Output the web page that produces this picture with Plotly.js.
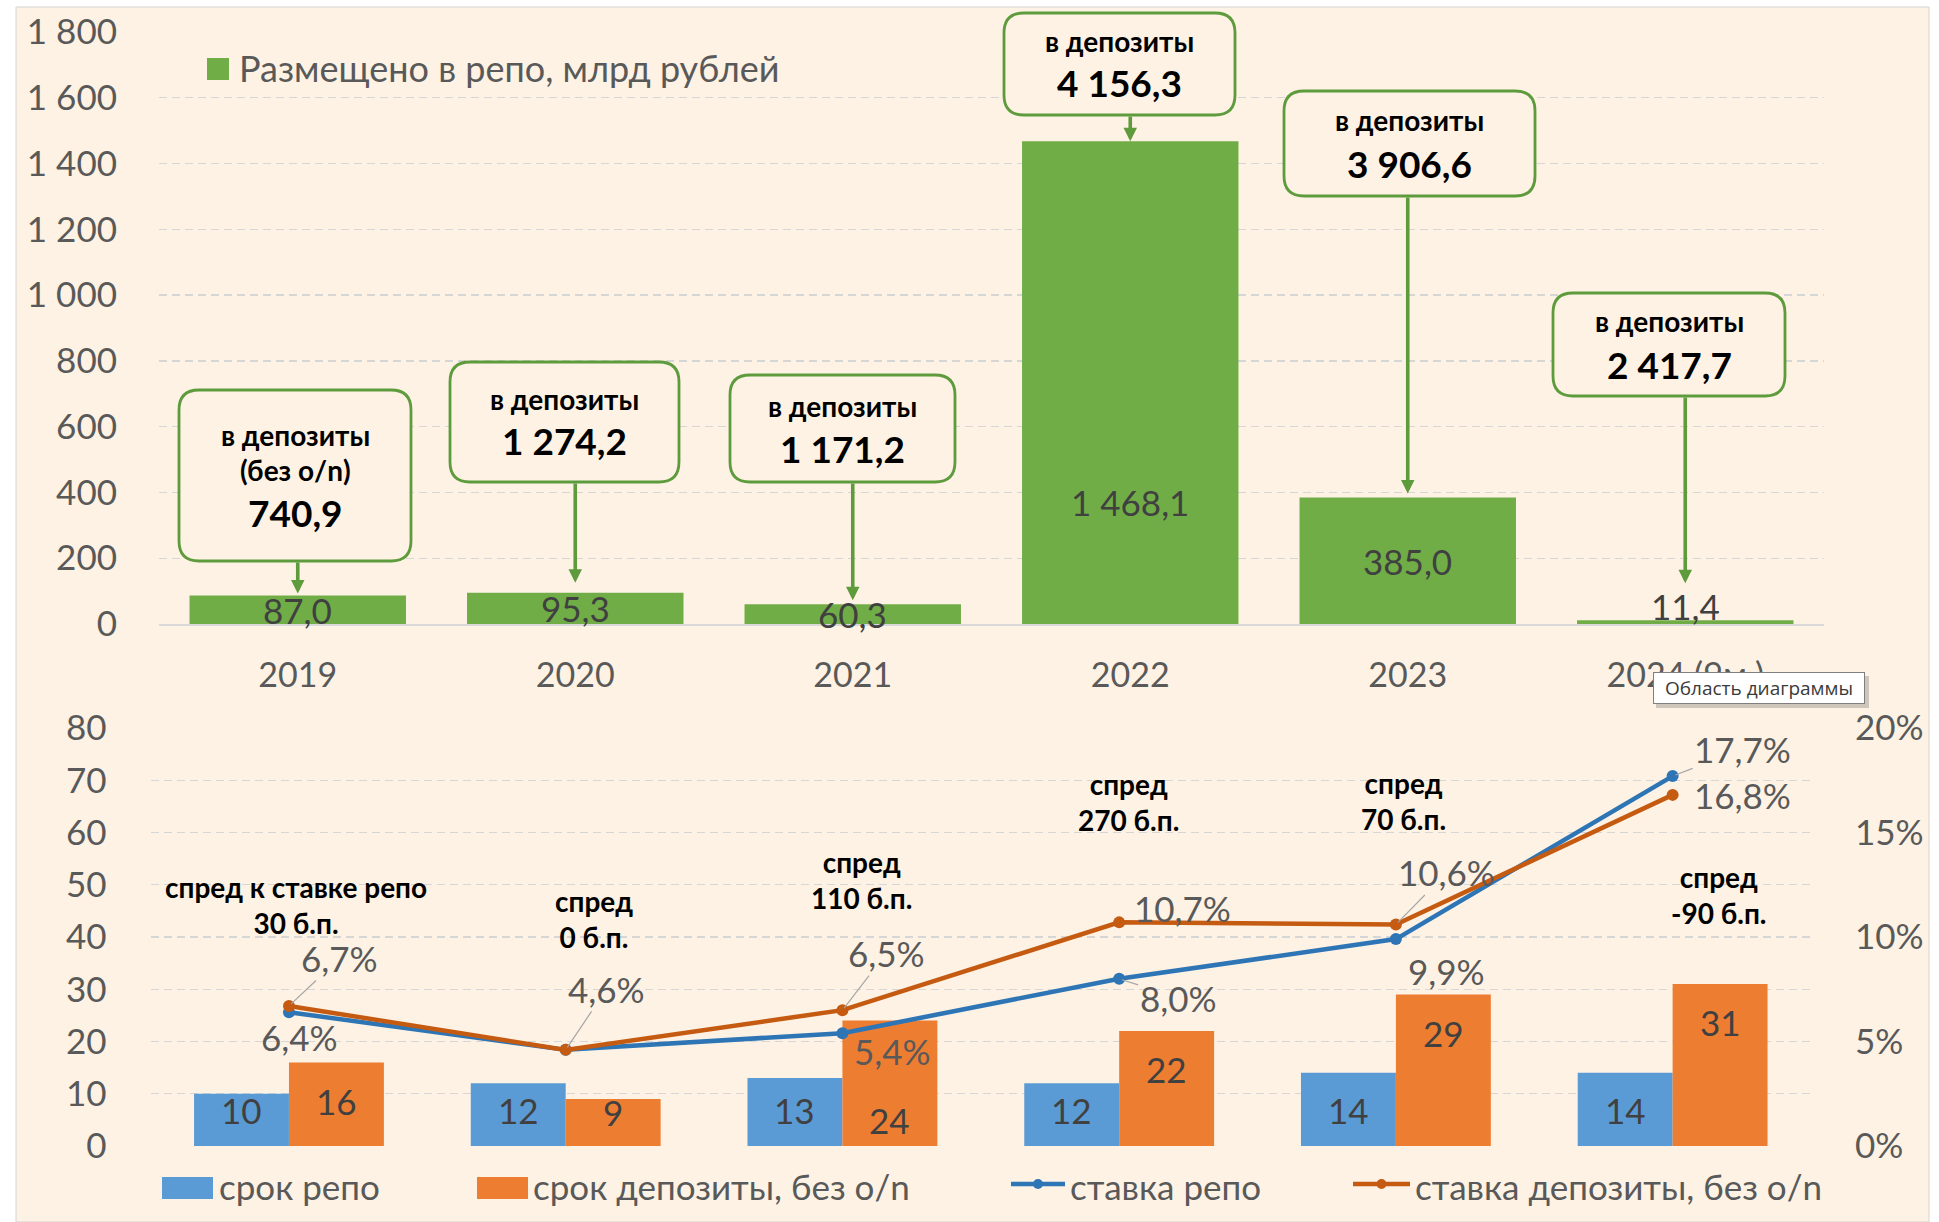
<!DOCTYPE html>
<html>
<head>
<meta charset="utf-8">
<script src="https://cdn.plot.ly/plotly-3.0.1.min.js"></script>
<style>
html,body{margin:0;padding:0;background:#ffffff;}
#chart{width:1939px;height:1222px;}
</style>
</head>
<body>
<div id="chart"></div>
<script>
// ---------------- DATA ----------------
const years = ['2019', '2020', '2021', '2022', '2023', '2024 (9м.)'];
const repoVolume = [87.0, 95.3, 60.3, 1468.1, 385.0, 11.4];          // Размещено в репо, млрд рублей
const depositVolume = [740.9, 1274.2, 1171.2, 4156.3, 3906.6, 2417.7]; // в депозиты
const depositCaption = ['в депозиты|(без о/n)', 'в депозиты', 'в депозиты', 'в депозиты', 'в депозиты', 'в депозиты'];
const repoTerm = [10, 12, 13, 12, 14, 14];       // срок репо
const depositTerm = [16, 9, 24, 22, 29, 31];     // срок депозиты, без о/n
const repoRate = [6.4, 4.6, 5.4, 8.0, 9.9, 17.7];      // ставка репо, %
const depositRate = [6.7, 4.6, 6.5, 10.7, 10.6, 16.8]; // ставка депозиты, без о/n, %
const seriesNames = ['Размещено в репо, млрд рублей', 'срок репо', 'срок депозиты, без о/n', 'ставка репо', 'ставка депозиты, без о/n'];

// ---------------- LAYOUT GEOMETRY (px) ----------------
const W = 1939, H = 1222;
const topArea = {l: 159, r: 1824, t: 32, b: 624};
const botArea = {l: 150.6, r: 1811, t: 728, b: 1146};
const TOPMAX = 1800;
const px = x => x / W;
const py = y => 1 - y / H;
const topVal = y => (topArea.b - y) / (topArea.b - topArea.t) * TOPMAX;

const FONT = 'Lato, "Open Sans", sans-serif';
const GREY = '#595959';
const DARK = '#404040';
const CREAM = '#FDF2E4';
const GREEN = '#70AD47';
const GREEN_LINE = '#5E9B3C';
const BLUE_BAR = '#5B9BD5';
const ORANGE_BAR = '#ED7D31';
const BLUE_LINE = '#2E75B6';
const ORANGE_LINE = '#C55A11';
const GRID = '#D6D6D6';

function fmt(v, d) {
  const s = Math.abs(v).toFixed(d).split('.');
  s[0] = s[0].replace(/\B(?=(\d{3})+(?!\d))/g, ' ');
  return (v < 0 ? '-' : '') + s.join(',');
}

const idx = years.map((_, i) => i);

// ---------------- TRACES ----------------
const traces = [
  {type: 'bar', x: idx, y: repoVolume, xaxis: 'x', yaxis: 'y', width: 0.78,
   marker: {color: GREEN}, name: seriesNames[0], hoverinfo: 'skip', showlegend: false},
  {type: 'bar', x: idx, y: repoTerm, xaxis: 'x2', yaxis: 'y2', width: 0.343, offset: -0.343,
   marker: {color: BLUE_BAR}, name: seriesNames[1], hoverinfo: 'skip', showlegend: false},
  {type: 'bar', x: idx, y: depositTerm, xaxis: 'x2', yaxis: 'y2', width: 0.343, offset: 0,
   marker: {color: ORANGE_BAR}, name: seriesNames[2], hoverinfo: 'skip', showlegend: false},
  {type: 'scatter', mode: 'lines+markers', x: idx, y: repoRate, xaxis: 'x2', yaxis: 'y3',
   line: {color: BLUE_LINE, width: 4.5}, marker: {color: BLUE_LINE, size: 12},
   name: seriesNames[3], hoverinfo: 'skip', showlegend: false},
  {type: 'scatter', mode: 'lines+markers', x: idx, y: depositRate, xaxis: 'x2', yaxis: 'y3',
   line: {color: ORANGE_LINE, width: 4.5}, marker: {color: ORANGE_LINE, size: 12},
   name: seriesNames[4], hoverinfo: 'skip', showlegend: false}
];

// ---------------- ANNOTATIONS & SHAPES ----------------
const annotations = [];
const shapes = [];

// cream chart area with thin border
shapes.push({type: 'rect', xref: 'paper', yref: 'paper', x0: px(16), x1: px(1929), y0: py(1222), y1: py(7),
  fillcolor: CREAM, line: {color: '#D4D4D4', width: 1}, layer: 'below'});

// top bar value labels
const topLabelOverride = {3: 371, 5: 55};
repoVolume.forEach((v, i) => {
  annotations.push({xref: 'x', yref: 'y', x: i, y: (i in topLabelOverride) ? topLabelOverride[i] : v / 2,
    text: fmt(v, 1), showarrow: false, font: {size: 35, color: DARK, family: FONT}});
});

// callout boxes (positions in px)
const calloutBoxes = [
  {x0: 179, x1: 411, y0: 390, y1: 561, lines: [435, 470, 512], gap: 2},
  {x0: 450, x1: 679, y0: 362, y1: 482, lines: [399, 441], gap: 10},
  {x0: 730, x1: 955, y0: 375, y1: 482, lines: [406, 448], gap: 4},
  {x0: 1004, x1: 1235, y0: 13, y1: 115, lines: [41, 83], gap: 0},
  {x0: 1284, x1: 1535, y0: 91, y1: 196, lines: [120, 163], gap: 4},
  {x0: 1553, x1: 1785, y0: 293, y1: 396, lines: [321, 364], gap: 37}
];
function roundRect(x0, y0, x1, y1, r) {
  const X = v => (v / W).toFixed(5), Y = v => (1 - v / H).toFixed(5);
  return `M${X(x0 + r)},${Y(y0)} L${X(x1 - r)},${Y(y0)} Q${X(x1)},${Y(y0)} ${X(x1)},${Y(y0 + r)} ` +
    `L${X(x1)},${Y(y1 - r)} Q${X(x1)},${Y(y1)} ${X(x1 - r)},${Y(y1)} L${X(x0 + r)},${Y(y1)} ` +
    `Q${X(x0)},${Y(y1)} ${X(x0)},${Y(y1 - r)} L${X(x0)},${Y(y0 + r)} Q${X(x0)},${Y(y0)} ${X(x0 + r)},${Y(y0)} Z`;
}
calloutBoxes.forEach((b, i) => {
  shapes.push({type: 'path', xref: 'paper', yref: 'paper', path: roundRect(b.x0, b.y0, b.x1, b.y1, 20),
    fillcolor: CREAM, line: {color: GREEN_LINE, width: 2.8}, layer: 'above'});
  const cx = (b.x0 + b.x1) / 2;
  const caps = depositCaption[i].split('|');
  caps.forEach((c, k) => {
    annotations.push({xref: 'paper', yref: 'paper', x: px(cx), y: py(b.lines[k]), xanchor: 'center', yanchor: 'middle',
      text: c, showarrow: false, font: {size: 28, color: '#000', family: FONT, weight: 700}});
  });
  annotations.push({xref: 'paper', yref: 'paper', x: px(cx), y: py(b.lines[caps.length]), xanchor: 'center', yanchor: 'middle',
    text: fmt(depositVolume[i], 1), showarrow: false, font: {size: 37, color: '#000', family: FONT, weight: 700}});
  // arrow from box to bar top
  annotations.push({xref: 'x', yref: 'y', x: i, y: repoVolume[i], axref: 'x', ayref: 'y', ax: i, ay: topVal(b.y1),
    text: '', showarrow: true, arrowhead: 2, arrowsize: 0.75, arrowwidth: 3.6, arrowcolor: GREEN_LINE, standoff: b.gap});
});

// top legend
shapes.push({type: 'rect', xref: 'paper', yref: 'paper', x0: px(207), x1: px(229), y0: py(80), y1: py(58),
  fillcolor: GREEN, line: {width: 0}, layer: 'above'});
annotations.push({xref: 'paper', yref: 'paper', x: px(237), y: py(68), xanchor: 'left', yanchor: 'middle',
  text: seriesNames[0], showarrow: false, font: {size: 36, color: GREY, family: FONT}});

// bottom bar labels
repoTerm.forEach((v, i) => {
  annotations.push({xref: 'x2', yref: 'y2', x: i - 0.1715, y: 6.8, text: String(v), showarrow: false,
    font: {size: 35, color: DARK, family: FONT}});
});
depositTerm.forEach((v, i) => {
  const yy = i === 2 ? 5.0 : Math.max(v - 7.3, 6.5);
  annotations.push({xref: 'x2', yref: 'y2', x: i + 0.1715, y: yy, text: String(v), showarrow: false,
    font: {size: 35, color: DARK, family: FONT}});
});

// rate labels: [dx, dy, leader] offsets in px (null = label hidden)
const repoRateLabelPos = [[11, 25, 0], null, [50, 18, 0], [59, 19, 1], [51, 32, 0], [70, -27, 1]];
const depRateLabelPos = [[51, -48, 1], [41, -61, 1], [44, -57, 1], [63, -14, 0], [51, -52, 1], [70, 0, 0]];
function rateLabels(vals, pos) {
  vals.forEach((v, i) => {
    const p = pos[i];
    if (!p) return;
    annotations.push({xref: 'x2', yref: 'y3', x: i, y: v, ax: p[0], ay: p[1], text: fmt(v, 1) + '%',
      showarrow: true, arrowhead: 0, arrowwidth: 1.2, arrowcolor: p[2] ? '#A6A6A6' : 'rgba(0,0,0,0)', standoff: 3,
      font: {size: 35, color: GREY, family: FONT}});
  });
}
rateLabels(repoRate, repoRateLabelPos);
rateLabels(depositRate, depRateLabelPos);

// spread labels (bp) computed from rates
const spreadPos = [[296, 905], [594, 919], [861, 880], [1128, 802], [1403, 801], [1719, 895]];
depositRate.forEach((d, i) => {
  const bp = Math.round((d - repoRate[i]) * 100);
  const head = i === 0 ? 'спред к ставке репо' : 'спред';
  annotations.push({xref: 'paper', yref: 'paper', x: px(spreadPos[i][0]), y: py(spreadPos[i][1]),
    xanchor: 'center', yanchor: 'middle', text: head + '<br>' + bp + ' б.п.', showarrow: false,
    font: {size: 28, color: '#000', family: FONT, weight: 700}});
});

// bottom legend
const legY = 1186;
shapes.push({type: 'rect', xref: 'paper', yref: 'paper', x0: px(162), x1: px(213), y0: py(1199), y1: py(1177),
  fillcolor: BLUE_BAR, line: {width: 0}, layer: 'above'});
annotations.push({xref: 'paper', yref: 'paper', x: px(217), y: py(legY), xanchor: 'left', yanchor: 'middle',
  text: seriesNames[1], showarrow: false, font: {size: 35, color: GREY, family: FONT}});
shapes.push({type: 'rect', xref: 'paper', yref: 'paper', x0: px(477), x1: px(528), y0: py(1199), y1: py(1177),
  fillcolor: ORANGE_BAR, line: {width: 0}, layer: 'above'});
annotations.push({xref: 'paper', yref: 'paper', x: px(531), y: py(legY), xanchor: 'left', yanchor: 'middle',
  text: seriesNames[2], showarrow: false, font: {size: 35, color: GREY, family: FONT}});
[[1011, 1065, BLUE_LINE, 3], [1353, 1410, ORANGE_LINE, 4]].forEach(([a, b, c, n]) => {
  shapes.push({type: 'line', xref: 'paper', yref: 'paper', x0: px(a), x1: px(b), y0: py(1184), y1: py(1184),
    line: {color: c, width: 4.5}, layer: 'above'});
  const m = (a + b) / 2;
  shapes.push({type: 'circle', xref: 'paper', yref: 'paper', x0: px(m - 5), x1: px(m + 5), y0: py(1189), y1: py(1179),
    fillcolor: c, line: {color: c, width: 0}, layer: 'above'});
  annotations.push({xref: 'paper', yref: 'paper', x: px(b + 3), y: py(legY), xanchor: 'left', yanchor: 'middle',
    text: seriesNames[n], showarrow: false, font: {size: 35, color: GREY, family: FONT}});
});

// Excel tooltip
shapes.push({type: 'rect', xref: 'paper', yref: 'paper', x0: px(1656), x1: px(1869), y0: py(708), y1: py(676),
  fillcolor: 'rgba(0,0,0,0.18)', line: {width: 0}, layer: 'above'});
annotations.push({xref: 'paper', yref: 'paper', x: px(1758.5), y: py(687.5), xanchor: 'center', yanchor: 'middle',
  text: 'Область диаграммы', showarrow: false, bgcolor: '#ffffff', bordercolor: '#7F7F7F', borderwidth: 1,
  borderpad: 3, width: 204, height: 24, font: {size: 19, color: '#3A3A3A', family: '"Open Sans", sans-serif'}});

// ---------------- AXES ----------------
const gridStyle = {showgrid: true, gridcolor: GRID, gridwidth: 1.3, griddash: '8px,5px'};
const layout = {
  width: W, height: H, autosize: false,
  margin: {l: 0, r: 0, t: 0, b: 0, pad: 0},
  paper_bgcolor: '#ffffff', plot_bgcolor: 'rgba(0,0,0,0)',
  font: {family: FONT, color: GREY},
  separators: ', ',
  barmode: 'overlay',
  showlegend: false,
  xaxis: {domain: [px(topArea.l), px(topArea.r)], anchor: 'y', range: [-0.5, 5.5],
    tickmode: 'array', tickvals: idx, ticktext: years, showgrid: false, zeroline: false,
    showline: true, linecolor: '#D9D9D9', linewidth: 1.5,
    ticks: 'outside', ticklen: 21, tickcolor: 'rgba(0,0,0,0)', tickfont: {size: 34, color: GREY}},
  yaxis: Object.assign({domain: [py(topArea.b), py(topArea.t)], anchor: 'x', range: [0, TOPMAX], dtick: 200,
    zeroline: false, separatethousands: true,
    ticks: 'outside', ticklen: 34, tickcolor: 'rgba(0,0,0,0)', tickfont: {size: 35, color: GREY}}, gridStyle),
  xaxis2: {domain: [px(botArea.l), px(botArea.r)], anchor: 'y2', range: [-0.5, 5.5],
    showticklabels: false, showgrid: false, zeroline: false, showline: false, ticks: ''},
  yaxis2: Object.assign({domain: [py(botArea.b), py(botArea.t)], anchor: 'x2', range: [0, 80], dtick: 10,
    zeroline: false, ticks: 'outside', ticklen: 36, tickcolor: 'rgba(0,0,0,0)', tickfont: {size: 35, color: GREY}}, gridStyle),
  yaxis3: {overlaying: 'y2', side: 'right', anchor: 'x2', range: [0, 20], dtick: 5, ticksuffix: '%',
    showgrid: false, zeroline: false, ticks: 'outside', ticklen: 36, tickcolor: 'rgba(0,0,0,0)',
    tickfont: {size: 35, color: GREY}},
  shapes: shapes,
  annotations: annotations
};

Plotly.newPlot('chart', traces, layout, {displayModeBar: false, staticPlot: true});
</script>
</body>
</html>
